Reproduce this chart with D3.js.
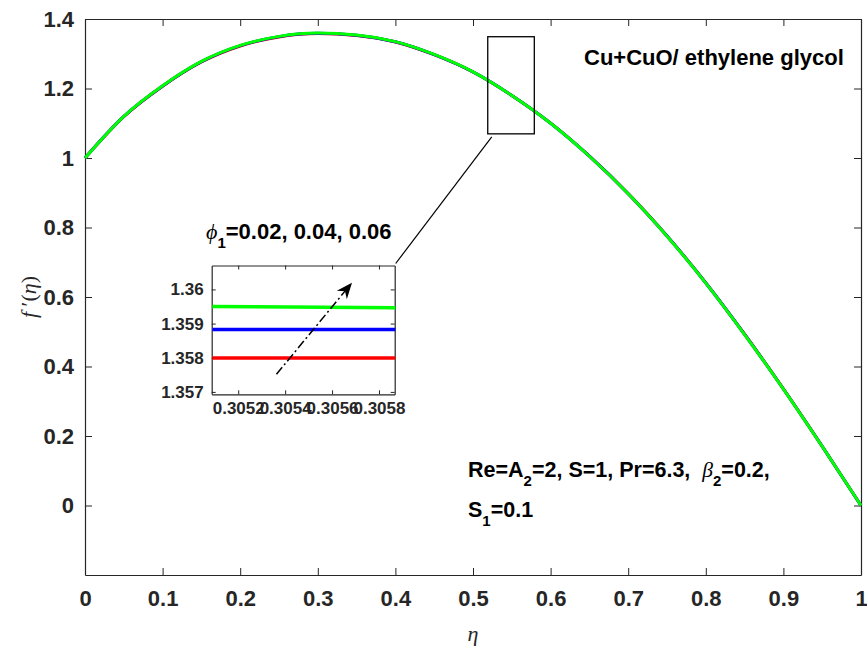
<!DOCTYPE html>
<html>
<head>
<meta charset="utf-8">
<script src="https://cdn.jsdelivr.net/npm/d3@7"></script>
<style>
  html, body { margin: 0; padding: 0; background: #fff; }
  svg { display: block; }
  text { white-space: pre; }
</style>
</head>
<body>
<script>
// Velocity profile f'(eta) for three nanoparticle volume fractions
const eta = [0, 0.05, 0.10, 0.15, 0.20, 0.25, 0.30, 0.35, 0.40, 0.45, 0.50,
             0.55, 0.60, 0.65, 0.70, 0.75, 0.80, 0.85, 0.90, 0.95, 1.00];
const fpPhi002 = [1.0000, 1.1190, 1.2066, 1.2764, 1.3224, 1.3485, 1.3580, 1.3527, 1.3339, 1.2972, 1.2476,
                  1.1800, 1.1002, 1.0054, 0.8976, 0.7758, 0.6408, 0.4928, 0.3356, 0.1704, 0.0000];
const fpPhi004 = [1.0000, 1.1195, 1.2073, 1.2772, 1.3232, 1.3493, 1.3588, 1.3534, 1.3345, 1.2976, 1.2478,
                  1.1800, 1.1001, 1.0052, 0.8973, 0.7754, 0.6404, 0.4924, 0.3353, 0.1702, 0.0000];
const fpPhi006 = [1.0000, 1.1200, 1.2080, 1.2780, 1.3240, 1.3500, 1.3595, 1.3540, 1.3350, 1.2980, 1.2480,
                  1.1800, 1.1000, 1.0050, 0.8970, 0.7750, 0.6400, 0.4920, 0.3350, 0.1700, 0.0000];
const seriesColors = ["#ff0000", "#0000ff", "#00ff00"];

const xTicks = [0, 0.1, 0.2, 0.3, 0.4, 0.5, 0.6, 0.7, 0.8, 0.9, 1];
const xTickLabels = ["0", "0.1", "0.2", "0.3", "0.4", "0.5", "0.6", "0.7", "0.8", "0.9", "1"];
const yTicks = [0, 0.2, 0.4, 0.6, 0.8, 1, 1.2, 1.4];
const yTickLabels = ["0", "0.2", "0.4", "0.6", "0.8", "1", "1.2", "1.4"];

// Magnified view near the maximum
const insetEta = [0.30509, 0.30587];
const insetRed = [1.35799, 1.35799];
const insetBlue = [1.35883, 1.35883];
const insetGreen = [1.35950, 1.35946];
const insetXTicks = [0.3052, 0.3054, 0.3056, 0.3058];
const insetXTickLabels = ["0.3052", "0.3054", "0.3056", "0.3058"];
const insetYTicks = [1.357, 1.358, 1.359, 1.36];
const insetYTickLabels = ["1.357", "1.358", "1.359", "1.36"];
const zoomBoxEta = [0.519, 0.579];
const zoomBoxF = [1.0695, 1.349];
const arrowFrom = [0.305363, 1.357516];
const arrowTo = [0.305685, 1.360198];

const W = 867, H = 651;
const sans = "'Liberation Sans', Arial, Helvetica, sans-serif";
const serif = "'Liberation Serif', 'Times New Roman', 'DejaVu Serif', serif";
const axisColor = "#262626";

const svg = d3.select("body").append("svg").attr("width", W).attr("height", H);
svg.append("rect").attr("width", W).attr("height", H).attr("fill", "#fff");

const x = d3.scaleLinear().domain([0, 1]).range([85, 861]);
const y = d3.scaleLinear().domain([-0.2, 1.4]).range([575, 19]);

function styleAxis(g, fontSize) {
  g.selectAll(".domain").attr("stroke", axisColor).attr("stroke-width", 1.2);
  g.selectAll(".tick line").attr("stroke", axisColor).attr("stroke-width", 1);
  g.selectAll(".tick text").attr("fill", axisColor)
    .style("font-family", sans).style("font-weight", "bold").style("font-size", fontSize + "px");
}

// main axes (box with inward ticks)
const gx = svg.append("g").attr("transform", `translate(0,${y.range()[0]})`)
  .call(d3.axisBottom(x).tickValues(xTicks).tickFormat((d, i) => xTickLabels[i])
    .tickSizeInner(-7).tickSizeOuter(0).tickPadding(15));
styleAxis(gx, 22);
const gxt = svg.append("g").attr("transform", `translate(0,${y.range()[1]})`)
  .call(d3.axisTop(x).tickValues(xTicks).tickFormat("").tickSizeInner(-7).tickSizeOuter(0));
styleAxis(gxt, 22);
const gy = svg.append("g").attr("transform", `translate(${x.range()[0]},0)`)
  .call(d3.axisLeft(y).tickValues(yTicks).tickFormat((d, i) => yTickLabels[i])
    .tickSizeInner(-7).tickSizeOuter(0).tickPadding(11));
styleAxis(gy, 22);
const gyr = svg.append("g").attr("transform", `translate(${x.range()[1]},0)`)
  .call(d3.axisRight(y).tickValues(yTicks).tickFormat("").tickSizeInner(-7).tickSizeOuter(0));
styleAxis(gyr, 22);

// curves
const line = d3.line().x(d => x(d[0])).y(d => y(d[1])).curve(d3.curveMonotoneX);
[fpPhi002, fpPhi004, fpPhi006].forEach((vals, i) => {
  svg.append("path")
    .datum(eta.map((e, k) => [e, vals[k]]))
    .attr("fill", "none").attr("stroke", seriesColors[i])
    .attr("stroke-width", 3).attr("stroke-linejoin", "round")
    .attr("d", line);
});

// zoom rectangle
svg.append("rect")
  .attr("x", x(zoomBoxEta[0])).attr("y", y(zoomBoxF[1]))
  .attr("width", x(zoomBoxEta[1]) - x(zoomBoxEta[0]))
  .attr("height", y(zoomBoxF[0]) - y(zoomBoxF[1]))
  .attr("fill", "none").attr("stroke", "#000").attr("stroke-width", 1.3);

// inset axes
const ix = d3.scaleLinear().domain([0.305087, 0.305867]).range([211.7, 394.7]);
const iy = d3.scaleLinear().domain([1.35693, 1.36070]).range([394.3, 265.5]);

// connector from zoom box to inset
svg.append("line")
  .attr("x1", x(zoomBoxEta[0]) + 4).attr("y1", y(zoomBoxF[0]) + 3)
  .attr("x2", ix.range()[1] + 1).attr("y2", iy.range()[1] - 2)
  .attr("stroke", "#000").attr("stroke-width", 1.2);

svg.append("rect")
  .attr("x", ix.range()[0]).attr("y", iy.range()[1])
  .attr("width", ix.range()[1] - ix.range()[0]).attr("height", iy.range()[0] - iy.range()[1])
  .attr("fill", "#fff");

const igx = svg.append("g").attr("transform", `translate(0,${iy.range()[0]})`)
  .call(d3.axisBottom(ix).tickValues(insetXTicks).tickFormat((d, i) => insetXTickLabels[i])
    .tickSizeInner(-4).tickSizeOuter(0).tickPadding(8));
styleAxis(igx, 17);
const igxt = svg.append("g").attr("transform", `translate(0,${iy.range()[1]})`)
  .call(d3.axisTop(ix).tickValues(insetXTicks).tickFormat("").tickSizeInner(-4).tickSizeOuter(0));
styleAxis(igxt, 17);
const igy = svg.append("g").attr("transform", `translate(${ix.range()[0]},0)`)
  .call(d3.axisLeft(iy).tickValues(insetYTicks).tickFormat((d, i) => insetYTickLabels[i])
    .tickSizeInner(-4).tickSizeOuter(0).tickPadding(8));
styleAxis(igy, 17);
const igyr = svg.append("g").attr("transform", `translate(${ix.range()[1]},0)`)
  .call(d3.axisRight(iy).tickValues(insetYTicks).tickFormat("").tickSizeInner(-4).tickSizeOuter(0));
styleAxis(igyr, 17);

const iline = d3.line().x(d => ix(d[0])).y(d => iy(d[1]));
[insetRed, insetBlue, insetGreen].forEach((vals, i) => {
  svg.append("path")
    .datum(insetEta.map((e, k) => [e, vals[k]]))
    .attr("fill", "none").attr("stroke", seriesColors[i]).attr("stroke-width", 3.5)
    .attr("d", iline);
});

// dash-dot arrow showing increasing phi_1
const ax0 = ix(arrowFrom[0]), ay0 = iy(arrowFrom[1]);
const ax1 = ix(arrowTo[0]), ay1 = iy(arrowTo[1]);
const ang = Math.atan2(ay1 - ay0, ax1 - ax0);
const headLen = 16, headHalf = 6.5, notch = 11;
const ux = Math.cos(ang), uy = Math.sin(ang), px = -uy, py = ux;
svg.append("line")
  .attr("x1", ax0).attr("y1", ay0)
  .attr("x2", ax1 - ux * notch).attr("y2", ay1 - uy * notch)
  .attr("stroke", "#000").attr("stroke-width", 1.5)
  .attr("stroke-dasharray", "9,3,2,3");
const head = [
  [ax1, ay1],
  [ax1 - ux * headLen + px * headHalf, ay1 - uy * headLen + py * headHalf],
  [ax1 - ux * notch, ay1 - uy * notch],
  [ax1 - ux * headLen - px * headHalf, ay1 - uy * headLen - py * headHalf]
];
svg.append("path").attr("d", "M" + head.map(p => p.join(",")).join("L") + "Z").attr("fill", "#000");

// annotation texts
svg.append("text").attr("x", 584).attr("y", 65)
  .style("font-family", sans).style("font-weight", "bold").style("font-size", "22px")
  .attr("fill", "#000").text("Cu+CuO/ ethylene glycol");

const phiT = svg.append("text").attr("x", 206).attr("y", 239)
  .style("font-family", sans).style("font-weight", "bold").style("font-size", "22px").attr("fill", "#000");
phiT.append("tspan").style("font-family", serif).style("font-style", "italic").style("font-weight", "normal").text("\u03D5");
phiT.append("tspan").attr("dy", 9).style("font-size", "15px").text("1");
phiT.append("tspan").attr("dy", -9).text("=0.02, 0.04, 0.06");

const p1 = svg.append("text").attr("x", 468).attr("y", 477)
  .style("font-family", sans).style("font-weight", "bold").style("font-size", "21.5px").attr("fill", "#000");
p1.append("tspan").text("Re=A");
p1.append("tspan").attr("dy", 9).style("font-size", "15px").text("2");
p1.append("tspan").attr("dy", -9).text("=2, S=1, Pr=6.3,  ");
p1.append("tspan").style("font-family", serif).style("font-style", "italic").style("font-weight", "normal").text("\u03B2");
p1.append("tspan").attr("dy", 9).style("font-size", "15px").text("2");
p1.append("tspan").attr("dy", -9).text("=0.2,");

const p2 = svg.append("text").attr("x", 468).attr("y", 517)
  .style("font-family", sans).style("font-weight", "bold").style("font-size", "21.5px").attr("fill", "#000");
p2.append("tspan").text("S");
p2.append("tspan").attr("dy", 9).style("font-size", "15px").text("1");
p2.append("tspan").attr("dy", -9).text("=0.1");

// axis titles
svg.append("text").attr("x", 473).attr("y", 641).attr("text-anchor", "middle")
  .style("font-family", serif).style("font-style", "italic").style("font-size", "22px")
  .attr("fill", axisColor).text("\u03B7");

const yl = svg.append("text").attr("transform", "translate(36,297) rotate(-90)")
  .attr("text-anchor", "middle")
  .style("font-family", serif).style("font-size", "22px").attr("fill", axisColor);
yl.append("tspan").style("font-style", "italic").text("f");
yl.append("tspan").text(" \u2032(");
yl.append("tspan").style("font-style", "italic").text("\u03B7");
yl.append("tspan").text(")");
</script>
</body>
</html>
